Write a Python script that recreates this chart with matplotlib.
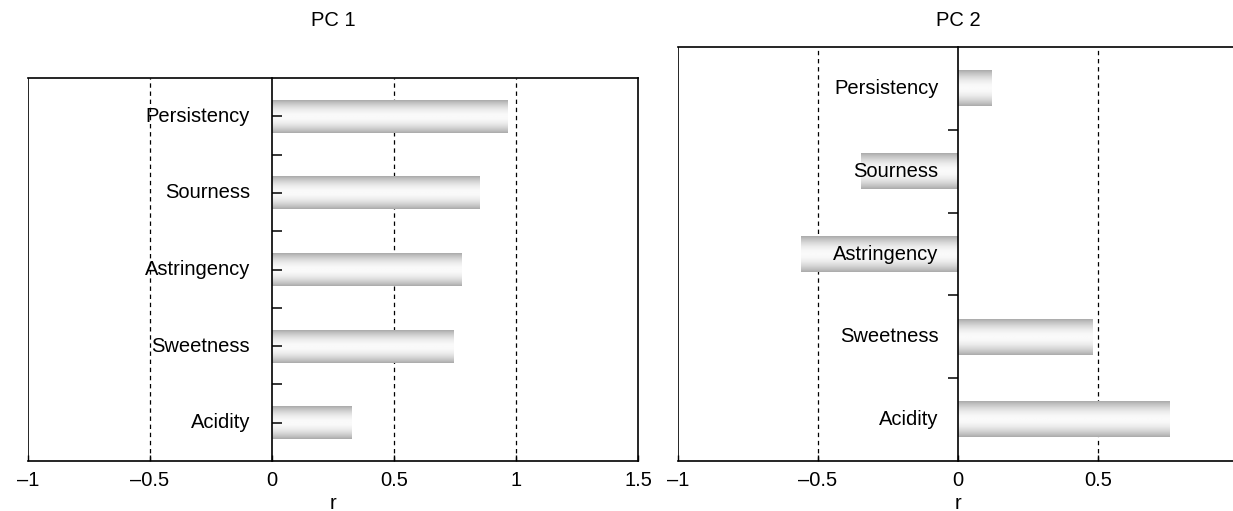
import numpy as np
import matplotlib
matplotlib.use("Agg")
import matplotlib.pyplot as plt

plt.rcParams['font.family'] = ['Liberation Sans', 'DejaVu Sans']
plt.rcParams['font.size'] = 14.5

attributes = ["Persistency", "Sourness", "Astringency", "Sweetness", "Acidity"]
pc1_r = [0.965, 0.85, 0.775, 0.745, 0.325]
pc2_r = [0.12, -0.345, -0.56, 0.48, 0.755]

pc1_ticks = [-1, -0.5, 0, 0.5, 1, 1.5]
pc2_ticks = [-1, -0.5, 0, 0.5, 1]

W, H = 1233, 511
fig = plt.figure(figsize=(W / 100, H / 100), dpi=100)

# vertical shading profile used inside every bar
t = np.linspace(0, 1, 64)
shade = 0.67 + 0.31 * np.sin(np.pi * t) ** 0.9
grad = shade[:, None]


def fmt(v):
    s = ("%g" % v).replace("-", "\u2013")
    return s


def panel(rect, values, xticks, xlim, dashed, label_x, title, tick_dir, center_ticks):
    ax = fig.add_axes(rect)
    ax.set_axisbelow(False)
    ypos = np.arange(len(values))[::-1]
    bars = ax.barh(ypos, values, height=0.43, color="none", edgecolor="none", zorder=2)
    for b in bars:
        x0, x1 = sorted([b.get_x(), b.get_x() + b.get_width()])
        y0 = b.get_y()
        ax.imshow(grad, cmap="gray", vmin=0, vmax=1, aspect="auto",
                  extent=[x0, x1, y0 + b.get_height(), y0], zorder=2,
                  interpolation="bilinear")
    for name, y in zip(attributes, ypos):
        ax.text(label_x, y, name, ha="right", va="center", zorder=4)
    for d in dashed:
        ax.axvline(d, color="black", lw=0.9, ls=(0, (3.5, 3)), zorder=1)
    ax.axvline(xlim[0], color="black", lw=1.2, zorder=5)
    ax.set_xlim(*xlim)
    ax.set_ylim(-0.5, len(values) - 0.5)

    ax.spines["left"].set_position(("data", 0))
    ax.spines["left"].set_zorder(3)
    for s in ax.spines.values():
        s.set_linewidth(1.2)
    yt = [y + 0.5 for y in range(len(values) - 1)]
    if center_ticks:
        yt = sorted(yt + list(ypos))
    ax.set_yticks(yt)
    ax.tick_params(axis="y", direction=tick_dir, length=7, width=1.1,
                   labelleft=False)
    ax.set_xticks(xticks)
    ax.set_xticklabels([fmt(v) for v in xticks])
    ax.tick_params(axis="x", direction="in", length=4, width=1, pad=7)
    ax.set_xlabel("r", labelpad=3)
    x_mid = rect[0] + rect[2] / 2
    fig.text(x_mid, 1 - 20 / H, title, ha="center", va="center")
    return ax


bottom = 1 - 461 / H
panel([28 / W, bottom, (638 - 28) / W, (461 - 78) / H], pc1_r, pc1_ticks,
      (-1, 1.5), [-0.5, 0.5, 1], -0.09, "PC 1", "in", True)
panel([678 / W, bottom, (1238 - 678) / W, (461 - 47) / H], pc2_r, pc2_ticks,
      (-1, 1), [-0.5, 0.5], -0.07, "PC 2", "out", False)

fig.savefig("out.png", dpi=100)
